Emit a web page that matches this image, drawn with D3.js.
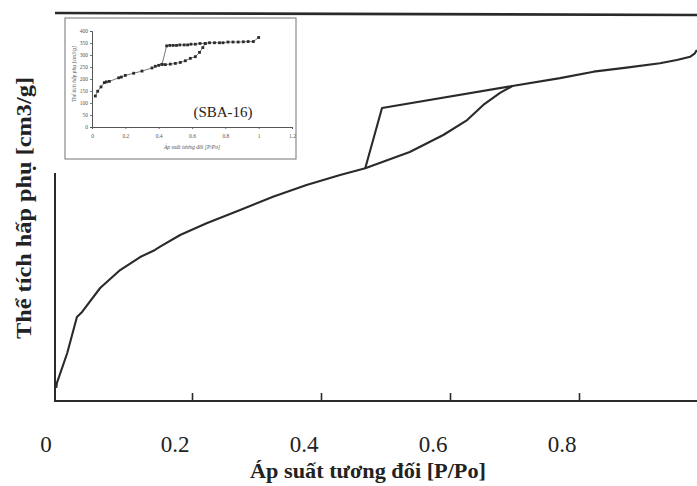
<!DOCTYPE html>
<html>
<head>
<meta charset="utf-8">
<script src="https://cdn.jsdelivr.net/npm/d3@7/dist/d3.min.js"></script>
<style>
  html, body { margin: 0; padding: 0; background: #fff; }
  svg { display: block; }
</style>
</head>
<body>
<script>
// ---------- DATA ----------
// Main chart: relative pressure P/Po vs adsorbed volume (arbitrary units, no y ticks shown)
const adsX = [0.002, 0.003, 0.019, 0.034, 0.042, 0.070, 0.101, 0.132, 0.155, 0.163, 0.194, 0.235, 0.287, 0.338, 0.390, 0.442, 0.481, 0.550, 0.602, 0.639, 0.664, 0.690, 0.709, 0.783, 0.835, 0.886, 0.938, 0.964, 0.985, 0.992, 0.995];
const adsY = [10.1, 14.0, 37.2, 65.1, 69.0, 87.6, 101.5, 111.6, 117.1, 119.6, 128.7, 137.8, 148.1, 158.4, 167.4, 175.2, 180.4, 193.0, 206.2, 217.8, 229.5, 238.8, 244.2, 250.3, 255.3, 258.4, 261.8, 264.3, 266.9, 269.5, 272.1];
const desX = [0.709, 0.507, 0.481];
const desY = [244.2, 227.1, 180.4];
const xTickValues = [0.2, 0.4, 0.6, 0.8];
const xTickLabels = [0, 0.2, 0.4, 0.6, 0.8];
const xTitle = "Áp suất tương đối [P/Po]";
const yTitle = "Thể tích hấp phụ [cm3/g]";

// Inset chart: SBA-16 isotherm
const insetAdsX = [0.02, 0.034, 0.054, 0.074, 0.086, 0.104, 0.16, 0.176, 0.2, 0.25, 0.30, 0.36, 0.38, 0.40, 0.42, 0.44, 0.47, 0.50, 0.53, 0.56, 0.59, 0.62, 0.645, 0.665, 0.68];
const insetAdsY = [129, 149, 167, 185, 188, 190, 205, 208, 215, 224, 233, 246, 253, 257, 261, 260, 262, 265, 269, 276, 286, 293, 311, 331, 348];
const insetDesX = [1.0, 0.968, 0.937, 0.908, 0.877, 0.846, 0.816, 0.786, 0.765, 0.735, 0.705, 0.679, 0.648, 0.62, 0.594, 0.574, 0.553, 0.527, 0.507, 0.487, 0.467, 0.448, 0.42];
const insetDesY = [373, 356, 356, 355, 354, 354, 354, 351, 351, 351, 351, 348, 348, 345, 345, 342, 342, 342, 340, 340, 340, 338, 261];
const insetYTicks = [0, 50, 100, 150, 200, 250, 300, 350, 400];
const insetXTicks = [0, 0.2, 0.4, 0.6, 0.8, 1, 1.2];
const insetLabel = "(SBA-16)";

// ---------- DRAW ----------
const W = 697, H = 486;
const svg = d3.select("body").append("svg").attr("width", W).attr("height", H);
const ink = "#2a2a2a";
const serif = "'Liberation Serif', 'DejaVu Serif', serif";

const x = d3.scaleLinear().domain([0, 1]).range([55, 700]);
const y = d3.scaleLinear().domain([0, 300]).range([401, 14]);

// top frame line
svg.append("line")
  .attr("x1", x(0)).attr("x2", W)
  .attr("y1", y(300) - 1).attr("y2", y(300) + 1)
  .attr("stroke", ink).attr("stroke-width", 2.6);

// y axis line (partial, below inset)
svg.append("line")
  .attr("x1", x(0)).attr("x2", x(0))
  .attr("y1", 173).attr("y2", y(0) + 1)
  .attr("stroke", ink).attr("stroke-width", 2);

// x axis line + inward ticks
const gx = svg.append("g").attr("transform", `translate(0,${y(0)})`);
gx.append("line").attr("x1", x(0) - 1).attr("x2", W).attr("y1", 0).attr("y2", 0)
  .attr("stroke", ink).attr("stroke-width", 2);
const tickAxis = d3.axisBottom(x).tickValues(xTickValues).tickSize(-8).tickFormat("");
const gt = svg.append("g").attr("transform", `translate(8,${y(0)})`).call(tickAxis);
gt.select(".domain").remove();
gt.selectAll(".tick line").attr("stroke", ink).attr("stroke-width", 1.6);

// x tick labels
svg.append("g").selectAll("text").data(xTickLabels).join("text")
  .attr("x", d => x(d) - 9)
  .attr("y", 452)
  .attr("text-anchor", "middle")
  .attr("font-family", serif)
  .attr("font-size", 23)
  .attr("fill", "#222")
  .text(d => d === 0 ? "0" : d3.format(".1f")(d));

// axis titles
svg.append("text")
  .attr("x", 368).attr("y", 478)
  .attr("text-anchor", "middle")
  .attr("font-family", serif).attr("font-weight", "bold")
  .attr("font-size", 21)
  .attr("textLength", 236).attr("lengthAdjust", "spacingAndGlyphs")
  .attr("fill", "#222")
  .text(xTitle);

svg.append("text")
  .attr("transform", "translate(31,208) rotate(-90)")
  .attr("text-anchor", "middle")
  .attr("font-family", serif).attr("font-weight", "bold")
  .attr("font-size", 21)
  .attr("textLength", 262).attr("lengthAdjust", "spacingAndGlyphs")
  .attr("fill", "#222")
  .text(yTitle);

// curves
const straight = d3.line().x(d => x(d[0])).y(d => y(d[1]));
const ads = adsX.map((v, i) => [v, adsY[i]]);
const des = desX.map((v, i) => [v, desY[i]]);
const gc = svg.append("g");
gc.append("path").datum(ads).attr("d", straight)
  .attr("fill", "none").attr("stroke", ink).attr("stroke-width", 2.1).attr("stroke-linejoin", "round");
gc.append("path").datum(des).attr("d", straight)
  .attr("fill", "none").attr("stroke", ink).attr("stroke-width", 2.1).attr("stroke-linejoin", "round");

// ---------- INSET ----------
const inset = svg.append("g");
inset.append("rect")
  .attr("x", 65).attr("y", 18).attr("width", 231).attr("height", 141)
  .attr("fill", "#fff").attr("stroke", "#8a8a8a").attr("stroke-width", 1.2);

const ix = d3.scaleLinear().domain([0, 1.2]).range([92, 292]);
const iy = d3.scaleLinear().domain([0, 400]).range([127, 31]);
const small = "#555";

const iyAxis = d3.axisLeft(iy).tickValues(insetYTicks).tickSize(2).tickPadding(2);
const giy = inset.append("g").attr("transform", `translate(${ix(0)},0)`).call(iyAxis);
const ixAxis = d3.axisBottom(ix).tickValues(insetXTicks).tickSize(2).tickPadding(5)
  .tickFormat(d => d === 0 || d === 1 ? d3.format("d")(d) : d3.format(".1f")(d));
const gix = inset.append("g").attr("transform", `translate(0,${iy(0)})`).call(ixAxis);
[giy, gix].forEach(g => {
  g.select(".domain").attr("stroke", "#555").attr("stroke-width", 1);
  g.selectAll(".tick line").attr("stroke", "#555").attr("stroke-width", 0.8);
  g.selectAll(".tick text").attr("font-family", serif).attr("font-size", 5.5).attr("fill", small);
});

inset.append("text")
  .attr("transform", "translate(76,74) rotate(-90)")
  .attr("text-anchor", "middle").attr("font-family", serif).attr("font-style", "italic")
  .attr("font-size", 5.5).attr("fill", small).text(yTitle);
inset.append("text")
  .attr("x", 192).attr("y", 149)
  .attr("text-anchor", "middle").attr("font-family", serif).attr("font-style", "italic")
  .attr("font-size", 5.5).attr("fill", small).text(xTitle);

const iline = d3.line().x(d => ix(d[0])).y(d => iy(d[1]));
const iads = insetAdsX.map((v, i) => [v, insetAdsY[i]]);
const ides = insetDesX.map((v, i) => [v, insetDesY[i]]);
[iads, ides].forEach(series => {
  inset.append("path").datum(series).attr("d", iline)
    .attr("fill", "none").attr("stroke", "#555").attr("stroke-width", 0.8);
  inset.append("g").selectAll("rect").data(series).join("rect")
    .attr("x", d => ix(d[0]) - 1.4).attr("y", d => iy(d[1]) - 1.4)
    .attr("width", 2.8).attr("height", 2.8)
    .attr("fill", "#2b2b2b");
});

inset.append("text")
  .attr("x", 223).attr("y", 117)
  .attr("text-anchor", "middle").attr("font-family", serif)
  .attr("font-size", 15).attr("fill", "#222").text(insetLabel);
</script>
</body>
</html>
